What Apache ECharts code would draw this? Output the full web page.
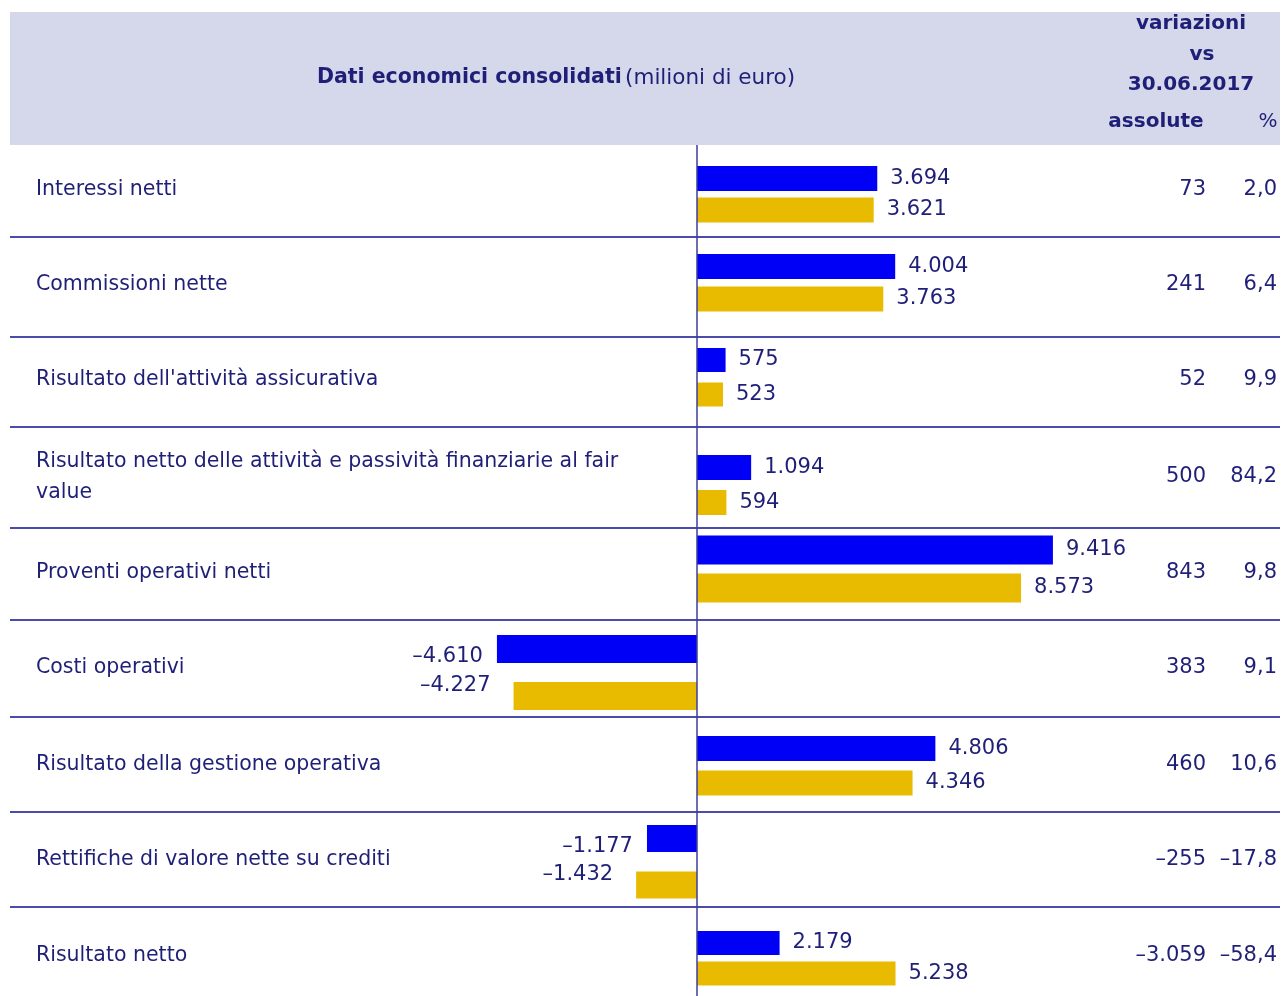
<!DOCTYPE html>
<html><head><meta charset="utf-8">
<script src="https://cdn.jsdelivr.net/npm/echarts@6/dist/echarts.min.js"></script>
<style>html,body{margin:0;padding:0;background:#fff}#c{width:1282px;height:996px}</style>
</head><body><div id="c"></div>
<script>
// ---- data ----
const categories = [
  "Interessi netti",
  "Commissioni nette",
  "Risultato dell'attività assicurativa",
  "Risultato netto delle attività e passività finanziarie al fair value",
  "Proventi operativi netti",
  "Costi operativi",
  "Risultato della gestione operativa",
  "Rettifiche di valore nette su crediti",
  "Risultato netto"
];
const current  = [3694, 4004, 575, 1094, 9416, -4610, 4806, -1177, 2179];
const previous = [3621, 3763, 523, 594, 8573, -4227, 4346, -1432, 5238];
const changeAbs = [73, 241, 52, 500, 843, 383, 460, -255, -3059];
const changePct = [2.0, 6.4, 9.9, 84.2, 9.8, 9.1, 10.6, -17.8, -58.4];
const headerTitle = "Dati economici consolidati";
const headerUnit = "(milioni di euro)";
const headerRight = ["variazioni", "vs", "30.06.2017"];
const colHeaders = ["assolute", "%"];

// ---- layout (positions / styles) ----
const blueY  = [178.5, 266.5, 360, 467.5, 550, 649, 748.5, 838.5, 943];
const goldY  = [210, 299, 394.5, 502.5, 588, 696, 783, 885, 973.5];
const barH   = [25, 25, 24, 25, 29, 28, 25, 27, 24];
const pxPerUnit = [0.0488, 0.0495, 0.0497, 0.0495, 0.0378, 0.0434, 0.0496, 0.0425, 0.0379];
const textY  = [190, 285, 380, 477, 573, 668, 765, 860, 956];
const sepY   = [237, 337, 427, 528, 620, 717, 812, 907];
const zeroX = 697, halfW = 400;
const NAVY = '#1f1f78', LINE = '#4b4bab', BLUE = '#0000f6', GOLD = '#e8bb00';
const FONT = '"DejaVu Sans", Verdana, sans-serif';
const FS_TXT = 20.5, FS_NUM = 21;

function fmtInt(v){
  const s = Math.abs(v).toString().replace(/\B(?=(\d{3})+(?!\d))/g, '.');
  return (v < 0 ? '\u2013' : '') + s;
}
function fmtPct(v){
  const s = Math.abs(v).toFixed(1).replace('.', ',');
  return (v < 0 ? '\u2013' : '') + s;
}

const grids = [], xAxes = [], yAxes = [], series = [];
categories.forEach((c, i) => {
  const d = goldY[i] - blueY[i];
  grids.push({left: zeroX - halfW, width: 2*halfW, top: blueY[i] - d/2, height: 2*d});
  const M = halfW / pxPerUnit[i];
  xAxes.push({gridIndex: i, type: 'value', min: -M, max: M, show: false});
  yAxes.push({gridIndex: i, type: 'category', data: ['cur', 'prev'], inverse: true, show: false});
  series.push({
    type: 'bar', xAxisIndex: i, yAxisIndex: i, barWidth: barH[i],
    silent: true, animation: false,
    data: [current[i], previous[i]].map((v, k) => ({
      value: v,
      itemStyle: {color: k === 0 ? BLUE : GOLD},
      label: {show: true, position: v < 0 ? 'left' : 'right', distance: 13,
              offset: v < 0 ? (k === 0 ? [-1, 8] : [-10, -10]) : [0, 0],
              formatter: fmtInt(v), color: NAVY, fontSize: FS_NUM, fontFamily: FONT}
    }))
  });
});

const graphic = [];
graphic.push({type: 'rect', shape: {x: 10, y: 12, width: 1270, height: 133}, style: {fill: '#d5d8ea'}, z: -10});
graphic.push({type: 'text', x: 556, y: 78, style: {
  text: '{b|' + headerTitle + '} {n|' + headerUnit + '}', align: 'center', verticalAlign: 'middle',
  rich: {b: {fontSize: 20.5, fontWeight: 'bold', fill: NAVY, fontFamily: FONT},
         n: {fontSize: 21.5, fill: NAVY, fontFamily: FONT}}
}});
const hrX = [1191, 1202, 1191], hrY = [24, 55, 85];
headerRight.forEach((t, k) => graphic.push({type: 'text', x: hrX[k], y: hrY[k], style: {
  text: t, align: 'center', verticalAlign: 'middle', fontSize: 20, fontWeight: 'bold', fill: NAVY, fontFamily: FONT}}));
graphic.push({type: 'text', x: 1156, y: 122, style: {text: colHeaders[0], align: 'center', verticalAlign: 'middle',
  fontSize: 20, fontWeight: 'bold', fill: NAVY, fontFamily: FONT}});
graphic.push({type: 'text', x: 1268, y: 122, style: {text: colHeaders[1], align: 'center', verticalAlign: 'middle',
  fontSize: 20, fill: NAVY, fontFamily: FONT}});

sepY.forEach(y => graphic.push({type: 'line', shape: {x1: 10, y1: y, x2: 1280, y2: y},
  style: {stroke: LINE, lineWidth: 2}}));
graphic.push({type: 'line', shape: {x1: zeroX, y1: 145, x2: zeroX, y2: 996}, style: {stroke: '#3d3d9c', lineWidth: 1.5}, z: 10});

categories.forEach((c, i) => {
  graphic.push({type: 'text', x: 36, y: textY[i], style: {
    text: c, width: 625, overflow: 'break', lineHeight: 31,
    align: 'left', verticalAlign: 'middle', fontSize: FS_TXT, fill: NAVY, fontFamily: FONT}});
  graphic.push({type: 'text', x: 1206, y: textY[i], style: {
    text: fmtInt(changeAbs[i]), align: 'right', verticalAlign: 'middle', fontSize: FS_NUM, fill: NAVY, fontFamily: FONT}});
  graphic.push({type: 'text', x: 1277, y: textY[i], style: {
    text: fmtPct(changePct[i]), align: 'right', verticalAlign: 'middle', fontSize: FS_NUM, fill: NAVY, fontFamily: FONT}});
});

const chart = echarts.init(document.getElementById('c'), null, {renderer: 'canvas'});
chart.setOption({animation: false, grid: grids, xAxis: xAxes, yAxis: yAxes, series, graphic});
</script></body></html>
